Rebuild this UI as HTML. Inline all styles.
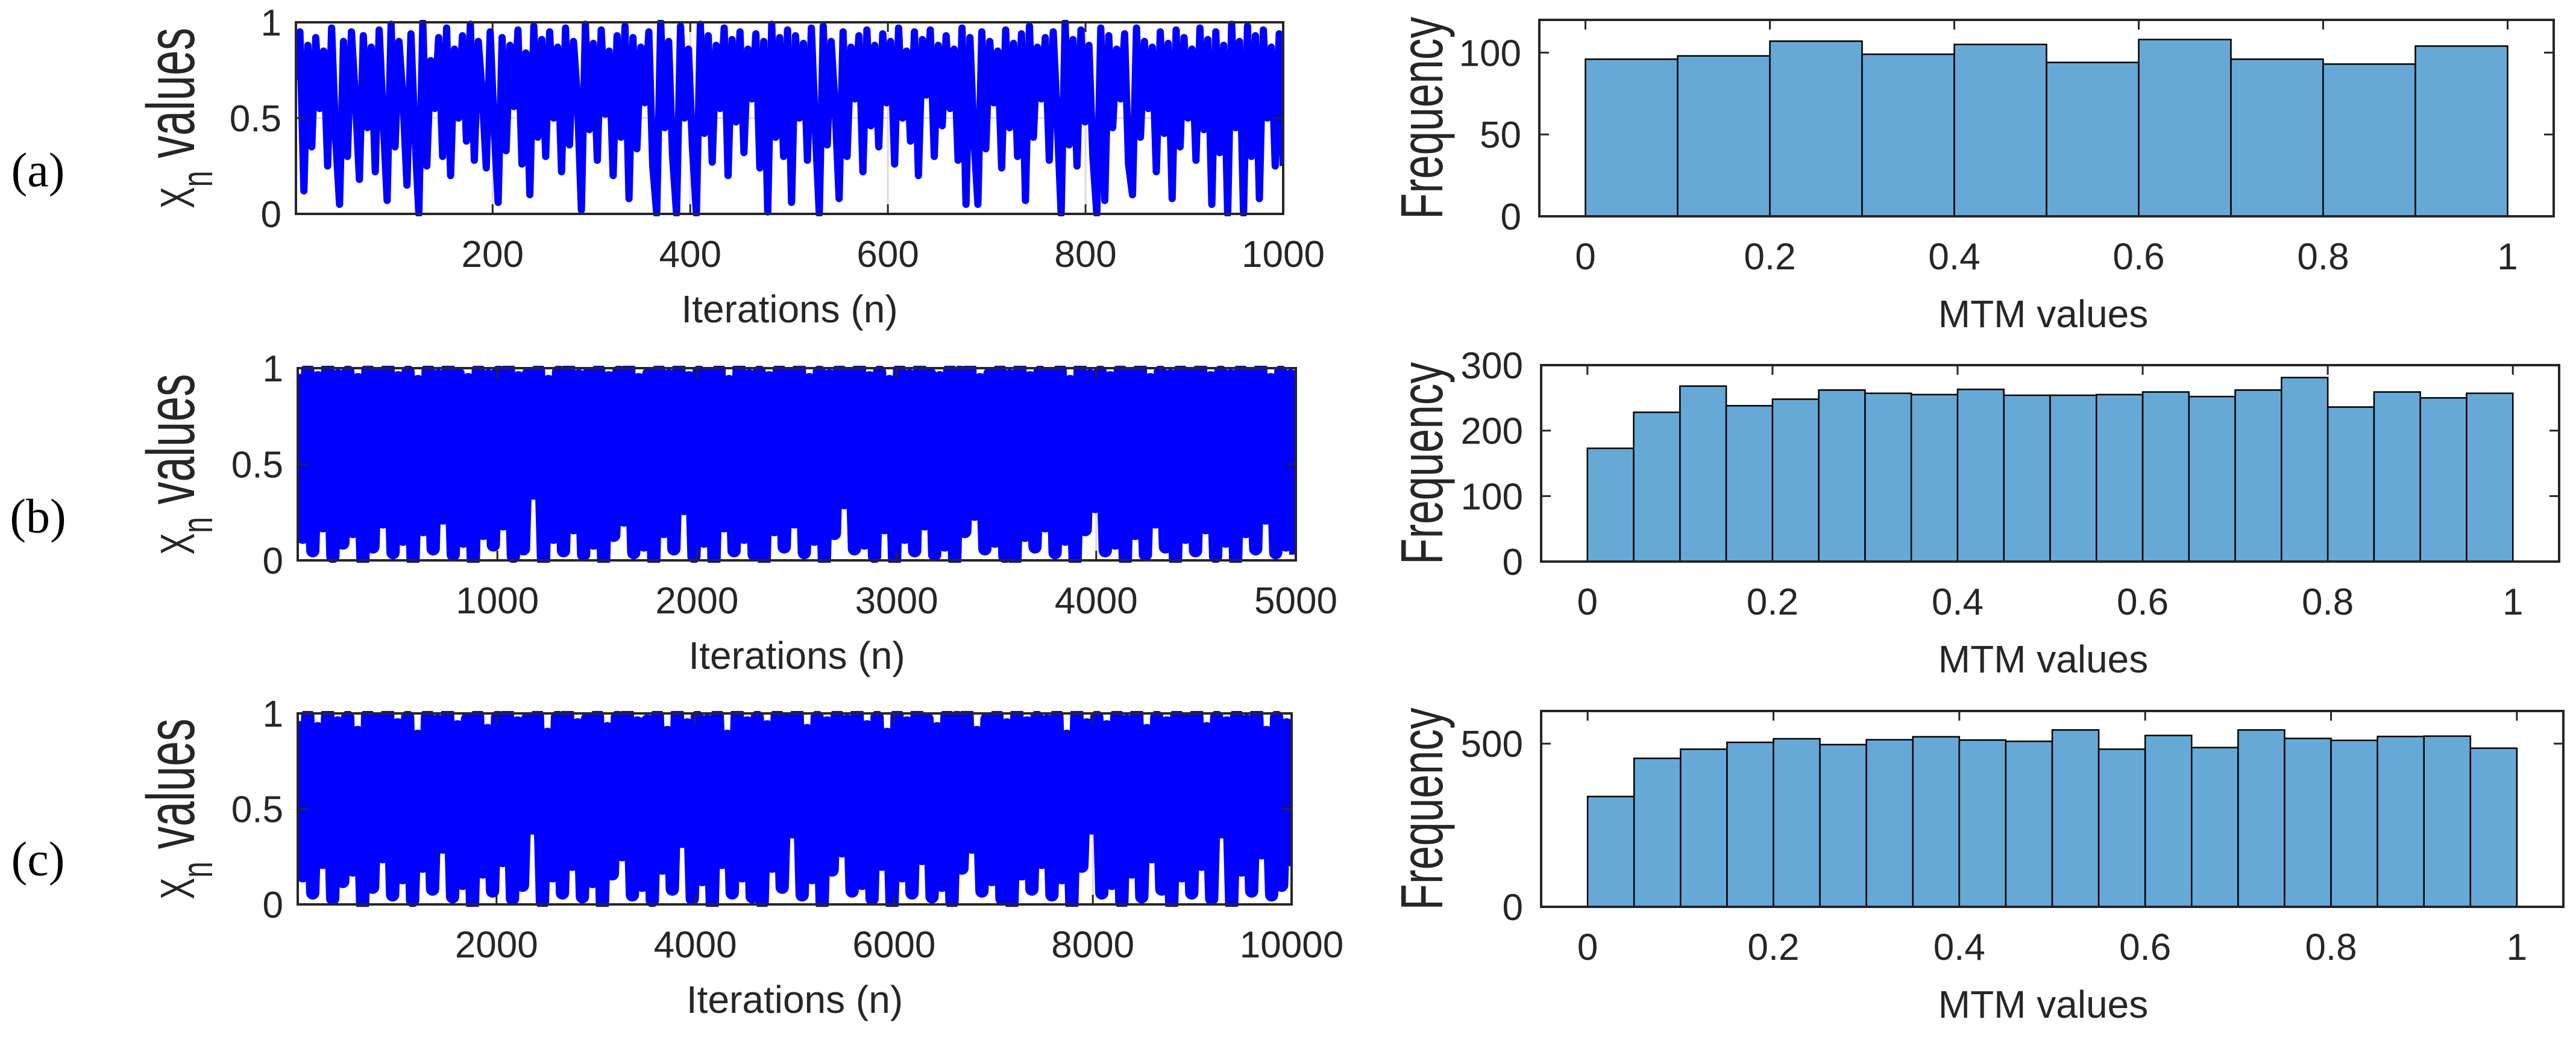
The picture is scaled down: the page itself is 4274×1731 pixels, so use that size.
<!DOCTYPE html>
<html><head><meta charset="utf-8"><style>
html,body{margin:0;padding:0;background:#fff;}
svg{display:block;}
text{font-family:"Liberation Sans",Arial,sans-serif;fill:#262626;}
.pl{font-family:"Liberation Serif","Times New Roman",serif;fill:#000;}
</style></head><body>
<svg id="fig" width="4274" height="1731" viewBox="0 0 4274 1731" xmlns="http://www.w3.org/2000/svg"></svg>
<script>
// ---- data ----
const seriesA = [0.7,0.95,0.12,0.88,0.35,0.92,0.55,0.85,0.25,0.97,0.4,0.05,0.9,0.3,0.95,0.6,0.18,0.93,0.45,0.87,0.22,0.96,0.5,0.07,0.99,
0.35,0.9,0.6,0.15,0.94,0.42,0.0,1.0,0.25,0.8,0.55,0.92,0.3,0.97,0.2,0.86,0.5,0.93,0.38,0.99,0.28,0.9,0.62,0.24,0.95,
0.45,0.06,0.92,0.33,0.88,0.56,0.96,0.26,0.84,0.1,0.98,0.4,0.91,0.3,0.95,0.5,0.87,0.22,0.97,0.36,0.9,0.6,0.02,0.99,0.44,
0.89,0.28,0.96,0.52,0.85,0.2,0.93,0.4,0.98,0.08,0.92,0.34,0.87,0.58,0.95,0.25,0.0,1.0,0.45,0.9,0.3,0.0,0.98,0.5,0.86,
0.35,0.0,0.99,0.42,0.93,0.27,0.88,0.55,0.97,0.2,0.91,0.48,0.95,0.32,0.86,0.6,0.94,0.24,0.9,0.01,0.99,0.4,0.92,0.3,0.96,
0.06,0.93,0.5,0.89,0.28,0.97,0.44,0.0,0.98,0.36,0.9,0.55,0.08,0.95,0.3,0.87,0.6,0.93,0.22,0.96,0.46,0.88,0.35,0.94,0.58,
0.9,0.26,0.97,0.5,0.85,0.38,0.95,0.2,0.91,0.62,0.96,0.3,0.88,0.46,0.93,0.55,0.86,0.28,0.97,0.05,0.92,0.4,0.05,0.95,0.34,
0.9,0.58,0.85,0.24,0.96,0.45,0.89,0.3,0.94,0.07,0.98,0.4,0.87,0.6,0.92,0.28,0.95,0.5,0.0,1.0,0.36,0.91,0.25,0.96,0.48,
0.88,0.3,0.0,0.97,0.07,0.93,0.45,0.86,0.6,0.94,0.26,0.1,0.97,0.4,0.9,0.55,0.87,0.22,0.95,0.42,0.89,0.08,0.96,0.35,0.92,
0.5,0.86,0.28,0.97,0.44,0.91,0.05,0.95,0.32,0.88,0.0,0.99,0.45,0.9,0.0,0.98,0.3,0.93,0.08,0.96,0.5,0.87,0.25,0.94,0.25];
const lowsB = [0.12,0.05,0.18,0.02,0.09,0.15,0.0,0.07,0.2,0.04,0.11,0.0,0.16,0.06,0.22,0.03,0.1,0.0,0.14,0.08,0.19,0.02,0.06,0.35,0.0,0.12,0.05,0.17,0.03,0.09,0.0,0.13,0.21,0.04,0.08,0.0,0.15,0.06,0.27,0.02,0.1,0.0,0.18,0.05,0.12,0.03,0.0,0.16,0.07,0.2,0.04,0.11,0.0,0.14,0.3,0.06,0.09,0.02,0.17,0.0,0.12,0.05,0.19,0.03,0.08,0.0,0.15,0.24,0.06,0.1,0.02,0.0,0.13,0.07,0.18,0.04,0.11,0.0,0.16,0.28,0.05,0.09,0.0,0.14,0.03,0.2,0.07,0.0,0.12,0.05,0.17,0.02,0.1,0.0,0.15,0.06,0.22,0.04,0.08,0.03];
const highsB = [0.97,0.99,0.95,1.0,0.96,0.98,0.94,0.99,0.97,1.0,0.95,0.98,0.93,0.99,0.96,1.0,0.97,0.94,0.99,0.96,0.98,1.0,0.95,0.97,0.99,0.93,0.98,1.0,0.96,0.97,0.99,0.95,0.98,1.0,0.94,0.97,0.99,0.96,1.0,0.95,0.98,0.97,0.99,0.93,1.0,0.96,0.98,0.95,0.99,0.97,1.0,0.94,0.98,0.96,0.99,0.97,1.0,0.95,0.98,0.93,0.99,0.96,1.0,0.97,0.95,0.99,0.98,1.0,0.94,0.97,0.99,0.96,1.0,0.95,0.98,0.97,0.99,0.93,1.0,0.96,0.98,0.95,0.99,0.97,1.0,0.94,0.98,0.96,0.99,0.97,1.0,0.95,0.98,0.96,0.99,0.97,1.0,0.94,0.98,0.96];
const lowsC = [0.15,0.06,0.22,0.03,0.12,0.18,0.0,0.09,0.25,0.05,0.14,0.02,0.2,0.08,0.3,0.04,0.11,0.0,0.17,0.07,0.23,0.03,0.1,0.4,0.01,0.15,0.06,0.21,0.04,0.12,0.0,0.16,0.26,0.05,0.1,0.02,0.19,0.08,0.33,0.03,0.13,0.0,0.22,0.06,0.15,0.04,0.01,0.2,0.09,0.38,0.05,0.14,0.0,0.18,0.28,0.07,0.11,0.03,0.21,0.0,0.15,0.06,0.24,0.04,0.1,0.01,0.19,0.3,0.07,0.13,0.03,0.0,0.16,0.08,0.22,0.05,0.14,0.0,0.2,0.4,0.06,0.11,0.01,0.17,0.04,0.25,0.08,0.0,0.15,0.06,0.21,0.03,0.38,0.0,0.18,0.07,0.27,0.05,0.1,0.2];
const highsC = [0.96,0.99,0.92,1.0,0.95,0.98,0.9,0.99,0.97,1.0,0.94,0.98,0.88,0.99,0.96,1.0,0.93,0.97,0.99,0.91,0.98,1.0,0.95,0.97,0.99,0.89,0.98,1.0,0.94,0.97,0.99,0.92,0.98,1.0,0.95,0.96,0.99,0.9,1.0,0.94,0.98,0.96,0.99,0.88,1.0,0.95,0.98,0.93,0.99,0.97,1.0,0.91,0.98,0.95,0.99,0.96,1.0,0.93,0.98,0.89,0.99,0.95,1.0,0.97,0.92,0.99,0.98,1.0,0.9,0.97,0.99,0.94,1.0,0.95,0.98,0.96,0.99,0.88,1.0,0.94,0.98,0.93,0.99,0.96,1.0,0.91,0.98,0.95,0.99,0.97,1.0,0.92,0.98,0.95,0.99,0.96,1.0,0.9,0.98,0.94];
const histA = [96,98,107,99,105,94,108,96,93,104];
const histB = [173,228,268,238,248,262,257,255,263,254,254,255,259,252,262,281,236,259,250,257];
const histC = [338,455,483,504,515,497,512,521,511,507,542,483,525,488,542,516,510,522,523,486];
const xticksA = [200,400,600,800,1000];
const xticksB = [1000,2000,3000,4000,5000];
const xticksC = [2000,4000,6000,8000,10000];
const yticksLine = [0,0.5,1];
const yticksLineLabels = ["0","0.5","1"];
const histXticks = [0,0.2,0.4,0.6,0.8,1];
const histXtickLabels = ["0","0.2","0.4","0.6","0.8","1"];
const yticksHA = [0,50,100];
const yticksHB = [0,100,200,300];
const yticksHC = [0,500];

const NS="http://www.w3.org/2000/svg";
const svg=document.getElementById('fig');
function mk(tag,attrs,parent){const e=document.createElementNS(NS,tag);for(const k in attrs)e.setAttribute(k,attrs[k]);(parent||svg).appendChild(e);return e;}
function scale(d0,d1,r0,r1){return v=>r0+(v-d0)/(d1-d0)*(r1-r0);}
const AX="#262626";

function lineAxes(cfg){
  const g=mk('g',{});
  
  
  const sx=scale(cfg.xd[0],cfg.xd[1],cfg.L,cfg.R), sy=scale(0,1,cfg.B,cfg.T);
  cfg.xticks.forEach(t=>{const l=mk('line',{x1:sx(t),x2:sx(t),y1:cfg.T,y2:cfg.B,stroke:'#dcdcdc','stroke-width':3},g);
    });
  const gl=mk('line',{x1:cfg.L,x2:cfg.R,y1:sy(0.5),y2:sy(0.5),stroke:'#dcdcdc','stroke-width':3},g);
  
  const clipId='clip-'+cfg.name;
  const cp=mk('clipPath',{id:clipId},g);
  mk('rect',{x:cfg.L,y:cfg.T-4,width:cfg.R-cfg.L,height:cfg.B-cfg.T+8},cp);
  const vals=cfg.values, n=vals.length;
  let d='';
  vals.forEach((v,i)=>{const x=sx(cfg.xd[0]+i*(cfg.xd[1]-cfg.xd[0])/(n-1));d+=(i?'L':'M')+x.toFixed(1)+','+sy(v).toFixed(1);});
  const p=mk('path',{d:d,fill:'none',stroke:'#0000ff','stroke-width':cfg.sw,'stroke-linejoin':'round','clip-path':`url(#${clipId})`},g);
  
  cfg.xticks.forEach(t=>{
    mk('line',{x1:sx(t),x2:sx(t),y1:cfg.B,y2:cfg.B-16,stroke:AX,'stroke-width':3},g);
    mk('line',{x1:sx(t),x2:sx(t),y1:cfg.T,y2:cfg.T+16,stroke:AX,'stroke-width':3},g);
    const tx=mk('text',{x:sx(t),y:cfg.B+88,'font-size':62,'text-anchor':'middle'},g);tx.textContent=t;
    
  });
  yticksLine.forEach((t,i)=>{
    mk('line',{x1:cfg.L,x2:cfg.L+16,y1:sy(t),y2:sy(t),stroke:AX,'stroke-width':3},g);
    mk('line',{x1:cfg.R,x2:cfg.R-16,y1:sy(t),y2:sy(t),stroke:AX,'stroke-width':3},g);
    const tx=mk('text',{x:cfg.L-24,y:sy(t)+22,'font-size':62,'text-anchor':'end'},g);tx.textContent=yticksLineLabels[i];
    
  });
  const box=mk('rect',{x:cfg.L,y:cfg.T,width:cfg.R-cfg.L,height:cfg.B-cfg.T,fill:'none',stroke:AX,'stroke-width':4},g);
  
  const xl=mk('text',{x:(cfg.L+cfg.R)/2,y:cfg.B+180,'font-size':64,'text-anchor':'middle'},g);xl.textContent='Iterations (n)';
  
  const cy=(cfg.T+cfg.B)/2;
  const yl=mk('text',{x:0,y:0,'font-size':112,'text-anchor':'middle',transform:`translate(322,${cy}) rotate(-90)`,textLength:300,lengthAdjust:'spacingAndGlyphs'},g);
  
  const t1=mk('tspan',{'font-size':80},yl);t1.textContent='X';
  const t2=mk('tspan',{dy:30,'font-size':72},yl);t2.textContent='n';
  const t3=mk('tspan',{dy:-30},yl);t3.textContent=' values';
  const pl=mk('text',{x:63,y:cy+cfg.lblOff,'font-size':80,'text-anchor':'middle',class:'pl'},g);
  pl.textContent=cfg.label;
}

function interleave(hi,lo){const out=[];for(let i=0;i<hi.length;i++){out.push(hi[i]);out.push(lo[i]);}return out;}

lineAxes({name:'line-plot-a',xd:[1,1000],L:491,R:2129,T:37,B:355,xticks:xticksA,values:seriesA,sw:12,label:'(a)',lblOff:113});
lineAxes({name:'line-plot-b',xd:[0,5000],L:494,R:2150,T:611,B:930,xticks:xticksB,values:interleave(highsB,lowsB),sw:22,label:'(b)',lblOff:113});
lineAxes({name:'line-plot-c',xd:[0,10000],L:494,R:2143,T:1184,B:1501,xticks:xticksC,values:interleave(highsC,lowsC),sw:22,label:'(c)',lblOff:110});

function histAxes(cfg){
  const g=mk('g',{});
  
  
  const sx=scale(-0.05,1.05,cfg.L,cfg.R), sy=scale(0,cfg.ymax,cfg.B,cfg.T);
  const n=cfg.values.length, w=1/n;
  cfg.values.forEach((v,i)=>{
    const r=mk('rect',{x:sx(i*w),y:sy(v),width:sx((i+1)*w)-sx(i*w),height:cfg.B-sy(v),fill:'#66a9d6',stroke:'#000','stroke-width':2.5},g);
    
  });
  histXticks.forEach((t,i)=>{
    mk('line',{x1:sx(t),x2:sx(t),y1:cfg.T,y2:cfg.T+16,stroke:AX,'stroke-width':3},g);
    const tx=mk('text',{x:sx(t),y:cfg.B+88,'font-size':62,'text-anchor':'middle'},g);tx.textContent=histXtickLabels[i];
    
  });
  cfg.yticks.forEach(t=>{
    mk('line',{x1:cfg.L,x2:cfg.L+16,y1:sy(t),y2:sy(t),stroke:AX,'stroke-width':3},g);
    mk('line',{x1:cfg.R,x2:cfg.R-16,y1:sy(t),y2:sy(t),stroke:AX,'stroke-width':3},g);
    const tx=mk('text',{x:cfg.L-30,y:sy(t)+22,'font-size':62,'text-anchor':'end'},g);tx.textContent=t;
    
  });
  const box=mk('rect',{x:cfg.L,y:cfg.T,width:cfg.R-cfg.L,height:cfg.B-cfg.T,fill:'none',stroke:AX,'stroke-width':4},g);
  
  const xl=mk('text',{x:3390,y:cfg.B+184,'font-size':64,'text-anchor':'middle'},g);xl.textContent='MTM values';
  
  const cy=(cfg.T+cfg.B)/2;
  const yl=mk('text',{x:0,y:0,'font-size':98,'text-anchor':'middle',transform:`translate(2393,${cy}) rotate(-90)`,textLength:336,lengthAdjust:'spacingAndGlyphs'},g);
  yl.textContent='Frequency';
}
histAxes({name:'histogram-a',L:2554,R:4237,T:33,B:359,ymax:120,yticks:yticksHA,values:histA});
histAxes({name:'histogram-b',L:2557,R:4246,T:606,B:932,ymax:300,yticks:yticksHB,values:histB});
histAxes({name:'histogram-c',L:2557,R:4253,T:1180,B:1505,ymax:600,yticks:yticksHC,values:histC});
</script>
</body></html>
